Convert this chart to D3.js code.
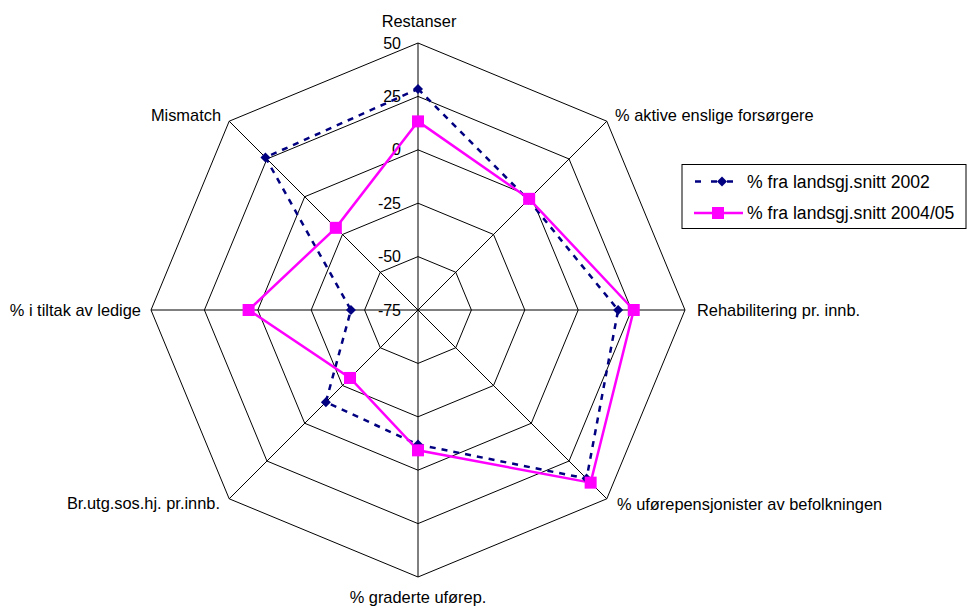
<!DOCTYPE html>
<html><head><meta charset="utf-8">
<script src="https://cdn.jsdelivr.net/npm/d3@7"></script>
<style>body{margin:0;background:#fff;}text{font-family:"Liberation Sans",Arial,sans-serif;font-size:16.4px;fill:#000;}</style>
</head><body>
<svg id="c" width="968" height="607"></svg>
<script>
const categories = ["Restanser","% aktive enslige forsørgere","Rehabilitering pr. innb.","% uførepensjonister av befolkningen","% graderte uførep.","Br.utg.sos.hj. pr.innb.","% i tiltak av ledige","Mismatch"];
const series2002 = [28.5, -2, 18.7, 36.6, -12, -14, -43.6, 26];
const series2004 = [13.3, -1.4, 26, 39.3, -9.3, -30, 4.3, -20.6];
const tickValues = [-75, -50, -25, 0, 25, 50];
const seriesNames = ["% fra landsgj.snitt 2002", "% fra landsgj.snitt 2004/05"];

const svg = d3.select("#c");
const cx = 418, cy = 310, R = 267;
const r = d3.scaleLinear().domain([-75, 50]).range([0, R]);
const n = categories.length;
const ang = i => -Math.PI/2 + i * 2 * Math.PI / n;
const pt = (i, v) => [cx + r(v) * Math.cos(ang(i)), cy + r(v) * Math.sin(ang(i))];

const g = svg.append("g");
tickValues.slice(1).forEach(t => {
  g.append("path")
    .attr("d", d3.line()(d3.range(n).map(i => pt(i, t))) + "Z")
    .attr("fill", "none").attr("stroke", "#000").attr("stroke-width", 1);
});
d3.range(n).forEach(i => {
  const p = pt(i, 50);
  g.append("line").attr("x1", cx).attr("y1", cy).attr("x2", p[0]).attr("y2", p[1])
    .attr("stroke", "#000").attr("stroke-width", 1);
});
tickValues.forEach(t => {
  svg.append("text").attr("x", cx - 17).attr("y", cy - r(t)).attr("dy", "0.35em")
    .attr("text-anchor", "end").style("font-size", "16px").text(t);
});
const labelPos = [
  {x: 419, y: 21, a: "middle"},
  {x: 615, y: 115, a: "start"},
  {x: 697, y: 310, a: "start"},
  {x: 617, y: 504, a: "start"},
  {x: 418, y: 597, a: "middle"},
  {x: 220, y: 503, a: "end"},
  {x: 141, y: 310, a: "end"},
  {x: 221, y: 115, a: "end"}
];
categories.forEach((c, i) => {
  svg.append("text").attr("x", labelPos[i].x).attr("y", labelPos[i].y).attr("dy", "0.35em")
    .attr("text-anchor", labelPos[i].a).text(c);
});

const lineGen = d3.line().curve(d3.curveLinearClosed);
svg.append("path").attr("d", lineGen(series2002.map((v, i) => pt(i, v))))
  .attr("fill", "none").attr("stroke", "#000080").attr("stroke-width", 2.5).attr("stroke-dasharray", "6,6");
svg.append("path").attr("d", lineGen(series2004.map((v, i) => pt(i, v))))
  .attr("fill", "none").attr("stroke", "#FF00FF").attr("stroke-width", 2.5);

const diamond = (x, y, s) => `M${x},${y-s}L${x+s},${y}L${x},${y+s}L${x-s},${y}Z`;
series2002.forEach((v, i) => {
  const p = pt(i, v);
  svg.append("path").attr("d", diamond(p[0], p[1], 5)).attr("fill", "#000080");
});
series2004.forEach((v, i) => {
  const p = pt(i, v);
  svg.append("rect").attr("x", p[0] - 6).attr("y", p[1] - 6).attr("width", 12).attr("height", 12).attr("fill", "#FF00FF");
});

const lg = svg.append("g");
lg.append("rect").attr("x", 682).attr("y", 164.5).attr("width", 284).attr("height", 64)
  .attr("fill", "#fff").attr("stroke", "#000").attr("stroke-width", 1);
lg.append("line").attr("x1", 695).attr("x2", 733).attr("y1", 181.5).attr("y2", 181.5)
  .attr("stroke", "#000080").attr("stroke-width", 2.5).attr("stroke-dasharray", "6,10");
lg.append("path").attr("d", diamond(722, 181.5, 5)).attr("fill", "#000080");
lg.append("text").attr("x", 747).attr("y", 181.5).attr("dy", "0.35em").style("font-size", "17.6px").text(seriesNames[0]);
lg.append("line").attr("x1", 694).attr("x2", 743).attr("y1", 213).attr("y2", 213)
  .attr("stroke", "#FF00FF").attr("stroke-width", 2.5);
lg.append("rect").attr("x", 712).attr("y", 207).attr("width", 12).attr("height", 12).attr("fill", "#FF00FF");
lg.append("text").attr("x", 747).attr("y", 213).attr("dy", "0.35em").style("font-size", "17.6px").text(seriesNames[1]);
</script>
</body></html>
